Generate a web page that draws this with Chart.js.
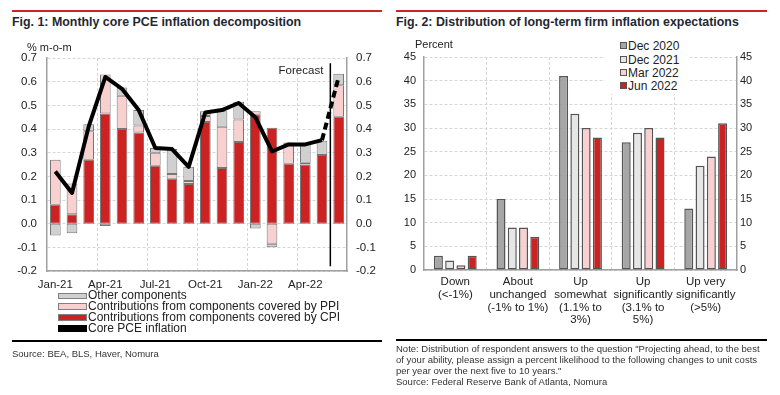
<!DOCTYPE html>
<html>
<head>
<meta charset="utf-8">
<script src="https://cdn.jsdelivr.net/npm/chart.js@4.4.1/dist/chart.umd.min.js"></script>
<style>
  body { margin:0; background:#fff; font-family:"Liberation Sans", Arial, sans-serif; color:#222; }
  #page { position:relative; width:780px; height:395px; overflow:hidden; }
  .abs { position:absolute; white-space:nowrap; }
  .redrule { position:absolute; height:2.5px; background:#cc2229; }
  .blackrule { position:absolute; height:2.5px; background:#000; }
  .title { position:absolute; font-weight:bold; font-size:12.4px; color:#1f2732; line-height:14px; white-space:nowrap; }
  .small { font-size:9.5px; color:#333; line-height:11px; }
  .lg1 { position:absolute; left:58px; font-size:12px; line-height:11px; height:11px; white-space:nowrap; }
  .lg1 .sw { position:absolute; left:0; top:2.5px; width:27px; height:4.5px; border:1px solid #808080; }
  .lg1 span.t { position:absolute; left:30px; top:0; }
  #leg2 { position:absolute; left:605px; top:38px; width:85px; height:56px; background:#fff; }
  .lg2 { position:absolute; left:15px; font-size:12px; line-height:13px; white-space:nowrap; }
  .lg2 .sq { display:inline-block; width:5px; height:5px; border:1px solid #555; margin-right:1px; vertical-align:1px; }
  canvas { position:absolute; top:0; }
</style>
</head>
<body>
<div id="page">
  <div class="redrule" style="left:12px; top:9.5px; width:370px;"></div>
  <div class="redrule" style="left:396px; top:9.5px; width:371px;"></div>
  <div class="title" style="left:12px; top:15px;">Fig. 1: Monthly core PCE inflation decomposition</div>
  <div class="title" style="left:396px; top:15px;">Fig. 2: Distribution of long-term firm inflation expectations</div>

  <canvas id="fig1" width="390" height="300" style="left:0; width:390px; height:300px;"></canvas>
  <canvas id="fig2" width="390" height="340" style="left:390px; width:390px; height:340px;"></canvas>

  <div class="abs" style="left:27px; top:41px; font-size:11px;">% m-o-m</div>
  <div class="abs" style="left:415px; top:38px; font-size:11px;">Percent</div>

  <div class="lg1" style="top:290px;"><div class="sw" style="background:#d0d0d0;"></div><span class="t">Other components</span></div>
  <div class="lg1" style="top:300.5px;"><div class="sw" style="background:#f8d0d0;"></div><span class="t">Contributions from components covered by PPI</span></div>
  <div class="lg1" style="top:311.5px;"><div class="sw" style="background:#cc2222;"></div><span class="t">Contributions from components covered by CPI</span></div>
  <div class="lg1" style="top:322.5px;"><div class="sw" style="background:#000; border-color:#000;"></div><span class="t">Core PCE inflation</span></div>

  <div id="leg2">
    <div class="lg2" style="top:2px;"><span class="sq" style="background:#a6a6a6;"></span>Dec 2020</div>
    <div class="lg2" style="top:15.5px;"><span class="sq" style="background:#e6e6e6;"></span>Dec 2021</div>
    <div class="lg2" style="top:28.5px;"><span class="sq" style="background:#f8d0d0;"></span>Mar 2022</div>
    <div class="lg2" style="top:42px;"><span class="sq" style="background:#cc2222;"></span>Jun 2022</div>
  </div>

  <div class="blackrule" style="left:12px; top:339.5px; width:370px;"></div>
  <div class="blackrule" style="left:396px; top:338.5px; width:371px;"></div>
  <div class="abs small" style="left:12px; top:348px;">Source: BEA, BLS, Haver, Nomura</div>
  <div class="abs small" style="left:396px; top:343px; line-height:11.1px;">
    Note: Distribution of respondent answers to the question "Projecting ahead, to the best<br>
    of your ability, please assign a percent likelihood to the following changes to unit costs<br>
    per year over the next five to 10 years."<br>
    Source: Federal Reserve Bank of Atlanta, Nomura
  </div>
</div>

<script>
// ---- Fig. 1 data ----
const months = ['Jan-21','Feb-21','Mar-21','Apr-21','May-21','Jun-21','Jul-21','Aug-21','Sep-21',
                'Oct-21','Nov-21','Dec-21','Jan-22','Feb-22','Mar-22','Apr-22','May-22','Jun-22'];
const cpiContrib   = [0.08, 0.04, 0.27, 0.465, 0.40, 0.385, 0.245, 0.19, 0.168, 0.43, 0.235, 0.345, 0.46, 0.405, 0.253, 0.25, 0.29, 0.452];
const ppiContrib   = [0.19, 0.13, 0.12, 0.165, 0.14, 0.03, 0.055, 0.02, 0.012, 0.025, 0.175, 0.095, 0.015, -0.085, 0.08, 0.007, 0, 0.133];
const otherContrib = [-0.05, -0.04, 0.03, -0.01, 0.035, 0.065, 0.02, 0.105, 0.06, 0.02, 0.065, 0.075, -0.02, -0.015, 0.01, 0.08, 0.06, 0.048];
const corePce      = [0.22, 0.13, 0.41, 0.62, 0.57, 0.48, 0.32, 0.315, 0.24, 0.47, 0.48, 0.51, 0.45, 0.305, 0.335, 0.335, 0.353, null];
const corePceFcst  = [null, null, null, null, null, null, null, null, null, null, null, null, null, null, null, null, 0.353, 0.62];
const fig1Ticks = { min: -0.2, max: 0.7, step: 0.1 };

// ---- Fig. 2 data ----
const answers = [
  ['Down', '(<-1%)'],
  ['About', 'unchanged', '(-1% to 1%)'],
  ['Up', 'somewhat', '(1.1% to', '3%)'],
  ['Up', 'significantly', '(3.1% to', '5%)'],
  ['Up very', 'significantly', '(>5%)']
];
const dec2020 = [3, 15, 41, 27, 13];
const dec2021 = [2, 9, 33, 29, 22];
const mar2022 = [1, 9, 30, 30, 24];
const jun2022 = [3, 7, 28, 28, 31];
const fig2Ticks = { min: 0, max: 45, step: 5 };

const RED = '#cc2222', PINK = '#f8d0d0', GREY = '#d0d0d0';
const GRID = '#d6d6d6', AXIS = '#a0a0a0';
Chart.defaults.font.family = '"Liberation Sans", Arial, sans-serif';
Chart.defaults.color = '#222';

// one decimal, and no "-0.0" from float noise
const fmt1 = v => (Math.round(v * 10) / 10 + 0).toFixed(1);

const forecastMark = {
  id: 'forecastMark',
  beforeDatasetsDraw(chart) {
    const { ctx, scales: { x, y } } = chart;
    const xp = (x.getPixelForValue(16) + x.getPixelForValue(17)) / 2;
    ctx.save();
    ctx.strokeStyle = '#000';
    ctx.lineWidth = 1.5;
    ctx.beginPath();
    ctx.moveTo(xp, y.getPixelForValue(0.678));
    ctx.lineTo(xp, y.getPixelForValue(-0.18));
    ctx.stroke();
    ctx.fillStyle = '#222';
    ctx.font = '11.5px "Liberation Sans", Arial, sans-serif';
    ctx.textAlign = 'right';
    ctx.textBaseline = 'middle';
    ctx.fillText('Forecast', xp - 7, y.getPixelForValue(0.644));
    ctx.restore();
  }
};

const seg = { borderColor: '#777', borderWidth: 1, borderSkipped: false, barPercentage: 0.64, categoryPercentage: 1, order: 2 };

new Chart(document.getElementById('fig1'), {
  type: 'bar',
  data: {
    labels: months,
    datasets: [
      { label: 'Contributions from components covered by CPI', data: cpiContrib, backgroundColor: RED, ...seg },
      { label: 'Contributions from components covered by PPI', data: ppiContrib, backgroundColor: PINK, ...seg },
      { label: 'Other components', data: otherContrib, backgroundColor: GREY, ...seg },
      { type: 'line', label: 'Core PCE inflation', data: corePce, yAxisID: 'y2', borderColor: '#000', borderWidth: 4,
        pointRadius: 0, tension: 0, borderJoinStyle: 'round', order: 1 },
      { type: 'line', label: 'Forecast', data: corePceFcst, yAxisID: 'y2', borderColor: '#000', borderWidth: 4,
        borderDash: [7, 4], pointRadius: 0, tension: 0, order: 1 }
    ]
  },
  options: {
    responsive: false, animation: false,
    layout: { padding: { top: 58, left: 0, right: 0, bottom: 0 } },
    plugins: { legend: { display: false }, tooltip: { enabled: false } },
    scales: {
      x: {
        stacked: true,
        grid: { color: c => (c.index > 0 && c.index % 3 === 0) ? GRID : 'transparent', drawTicks: false },
        border: { color: AXIS, width: 1.5, dash: [3, 2] },
        ticks: { autoSkip: false, maxRotation: 0, padding: 7, font: { size: 11.5 },
                 callback: (v, i) => i % 3 === 0 ? months[i] : '' },
        afterFit: s => { s.height = 29; }
      },
      y: {
        stacked: true, min: fig1Ticks.min, max: fig1Ticks.max,
        grid: { color: GRID, drawTicks: false },
        border: { color: AXIS, width: 1.5, dash: [3, 2] },
        ticks: { stepSize: fig1Ticks.step, padding: 10, font: { size: 11.5 }, callback: fmt1 },
        afterFit: s => { s.width = 47; }
      },
      y2: {
        position: 'right', min: fig1Ticks.min, max: fig1Ticks.max,
        grid: { drawOnChartArea: false, drawTicks: false },
        border: { color: AXIS, width: 1.5 },
        ticks: { stepSize: fig1Ticks.step, padding: 9, font: { size: 11.5 }, callback: fmt1 },
        afterFit: s => { s.width = 43; }
      }
    }
  },
  plugins: [forecastMark]
});

const bar2 = { borderColor: '#555', borderWidth: 1.5, borderSkipped: false, barPercentage: 0.8, categoryPercentage: 0.72 };

new Chart(document.getElementById('fig2'), {
  type: 'bar',
  data: {
    labels: answers,
    datasets: [
      { label: 'Dec 2020', data: dec2020, backgroundColor: '#a6a6a6', ...bar2 },
      { label: 'Dec 2021', data: dec2021, backgroundColor: '#e6e6e6', ...bar2 },
      { label: 'Mar 2022', data: mar2022, backgroundColor: PINK, ...bar2 },
      { label: 'Jun 2022', data: jun2022, backgroundColor: RED, ...bar2 }
    ]
  },
  options: {
    responsive: false, animation: false,
    layout: { padding: { top: 57, left: 0, right: 0, bottom: 0 } },
    plugins: { legend: { display: false }, tooltip: { enabled: false } },
    scales: {
      x: {
        grid: { color: c => (c.index > 0 && c.index < answers.length) ? GRID : 'transparent', drawTicks: false },
        border: { color: AXIS, width: 1.5, dash: [3, 2] },
        ticks: { autoSkip: false, maxRotation: 0, padding: 6, font: { size: 11.5, lineHeight: 1.1 } },
        afterFit: s => { s.height = 70; }
      },
      y: {
        min: fig2Ticks.min, max: fig2Ticks.max,
        grid: { color: GRID, drawTicks: false },
        border: { color: AXIS, width: 1.5, dash: [3, 2] },
        ticks: { stepSize: fig2Ticks.step, padding: 8, font: { size: 11 } },
        afterFit: s => { s.width = 34; }
      },
      y2: {
        position: 'right', min: fig2Ticks.min, max: fig2Ticks.max,
        grid: { drawOnChartArea: false, drawTicks: false },
        border: { color: AXIS, width: 1.5 },
        ticks: { stepSize: fig2Ticks.step, padding: 3, font: { size: 11 } },
        afterFit: s => { s.width = 43; }
      }
    }
  }
});
</script>
</body>
</html>
